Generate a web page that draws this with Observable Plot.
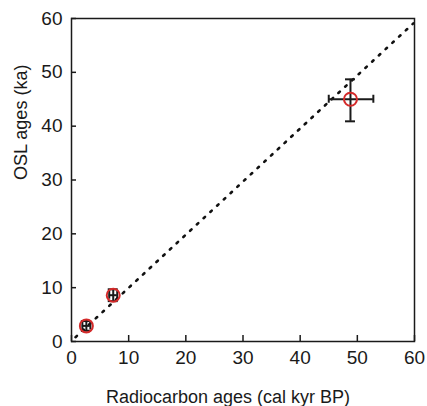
<!DOCTYPE html>
<html>
<head>
<meta charset="utf-8">
<script src="https://cdn.jsdelivr.net/npm/d3@7"></script>
<script src="https://cdn.jsdelivr.net/npm/@observablehq/plot@0.6"></script>
<style>
  html, body { margin: 0; padding: 0; background: #fff; }
  #chart svg { display: block; }
</style>
</head>
<body>
<div id="chart"></div>
<script>
// Data
const radiocarbonAges = [2.6, 7.3, 48.8];
const oslAges = [2.9, 8.6, 45.0];
const xErrLow = [1.9, 6.6, 45.0];
const xErrHigh = [3.3, 8.0, 52.8];
const yErrLow = [2.0, 7.5, 40.9];
const yErrHigh = [3.8, 9.7, 48.7];

const fitX = [0.7, 59.8];
const fitY = [0.8, 59.1];

const xTicks = [0, 10, 20, 30, 40, 50, 60];
const yTicks = [0, 10, 20, 30, 40, 50, 60];

const xLabel = "Radiocarbon ages (cal kyr BP)";
const yLabel = "OSL ages (ka)";

const points = radiocarbonAges.map((x, i) => ({
  x, y: oslAges[i], xlo: xErrLow[i], xhi: xErrHigh[i], ylo: yErrLow[i], yhi: yErrHigh[i]
}));
const fitLine = fitX.map((x, i) => ({x, y: fitY[i]}));

const W = 427, H = 406;
const mL = 71, mR = 13, mT = 18, mB = 65;
const frameW = W - mL - mR, frameH = H - mT - mB;
const ink = "#1a1a1a";
const font = "'Liberation Sans', Arial, Helvetica, sans-serif";

const chart = Plot.plot({
  width: W,
  height: H,
  marginLeft: mL,
  marginRight: mR,
  marginTop: mT,
  marginBottom: mB,
  style: {fontFamily: font, fontSize: "18px", color: ink, background: "#fff"},
  x: {domain: [0, 60]},
  y: {domain: [0, 60]},
  marks: [
    Plot.axisX(xTicks, {tickSize: 0, tickPadding: 9, fontSize: 19, fill: ink, label: null}),
    Plot.axisY(yTicks, {tickSize: 0, tickPadding: 9, fontSize: 19, fill: ink, label: null}),
    Plot.tickX(xTicks, {x: d => d, insetTop: frameH - 6, stroke: ink, strokeWidth: 1.5}),
    Plot.tickY(yTicks, {y: d => d, insetRight: frameW - 5, stroke: ink, strokeWidth: 1.5}),
    Plot.line(fitLine, {x: "x", y: "y", stroke: "#111", strokeWidth: 2.6, strokeDasharray: "2,7.2"}),
    // error bars
    Plot.ruleY(points, {y: "y", x1: "xlo", x2: "xhi", stroke: ink, strokeWidth: 2}),
    Plot.ruleX(points, {x: "x", y1: "ylo", y2: "yhi", stroke: ink, strokeWidth: 2}),
    Plot.ruleY(points, {y: "ylo", x1: "x", x2: "x", insetLeft: -5, insetRight: -5, stroke: ink, strokeWidth: 2}),
    Plot.ruleY(points, {y: "yhi", x1: "x", x2: "x", insetLeft: -5, insetRight: -5, stroke: ink, strokeWidth: 2}),
    Plot.ruleX(points, {x: "xlo", y1: "y", y2: "y", insetTop: -4, insetBottom: -4, stroke: ink, strokeWidth: 2}),
    Plot.ruleX(points, {x: "xhi", y1: "y", y2: "y", insetTop: -4, insetBottom: -4, stroke: ink, strokeWidth: 2}),
    Plot.dot(points, {x: "x", y: "y", r: 6.5, stroke: "#d42a2a", strokeWidth: 2, fill: "none"}),
    Plot.frame({stroke: ink, strokeWidth: 1.5}),
    Plot.text([xLabel], {frameAnchor: "bottom", dy: 61, dx: -15, lineAnchor: "bottom", fontSize: 18, fill: ink}),
    Plot.text([yLabel], {frameAnchor: "left", dx: -45, rotate: -90, lineAnchor: "bottom", fontSize: 18, fill: ink})
  ]
});

document.getElementById("chart").appendChild(chart);
</script>
</body>
</html>
